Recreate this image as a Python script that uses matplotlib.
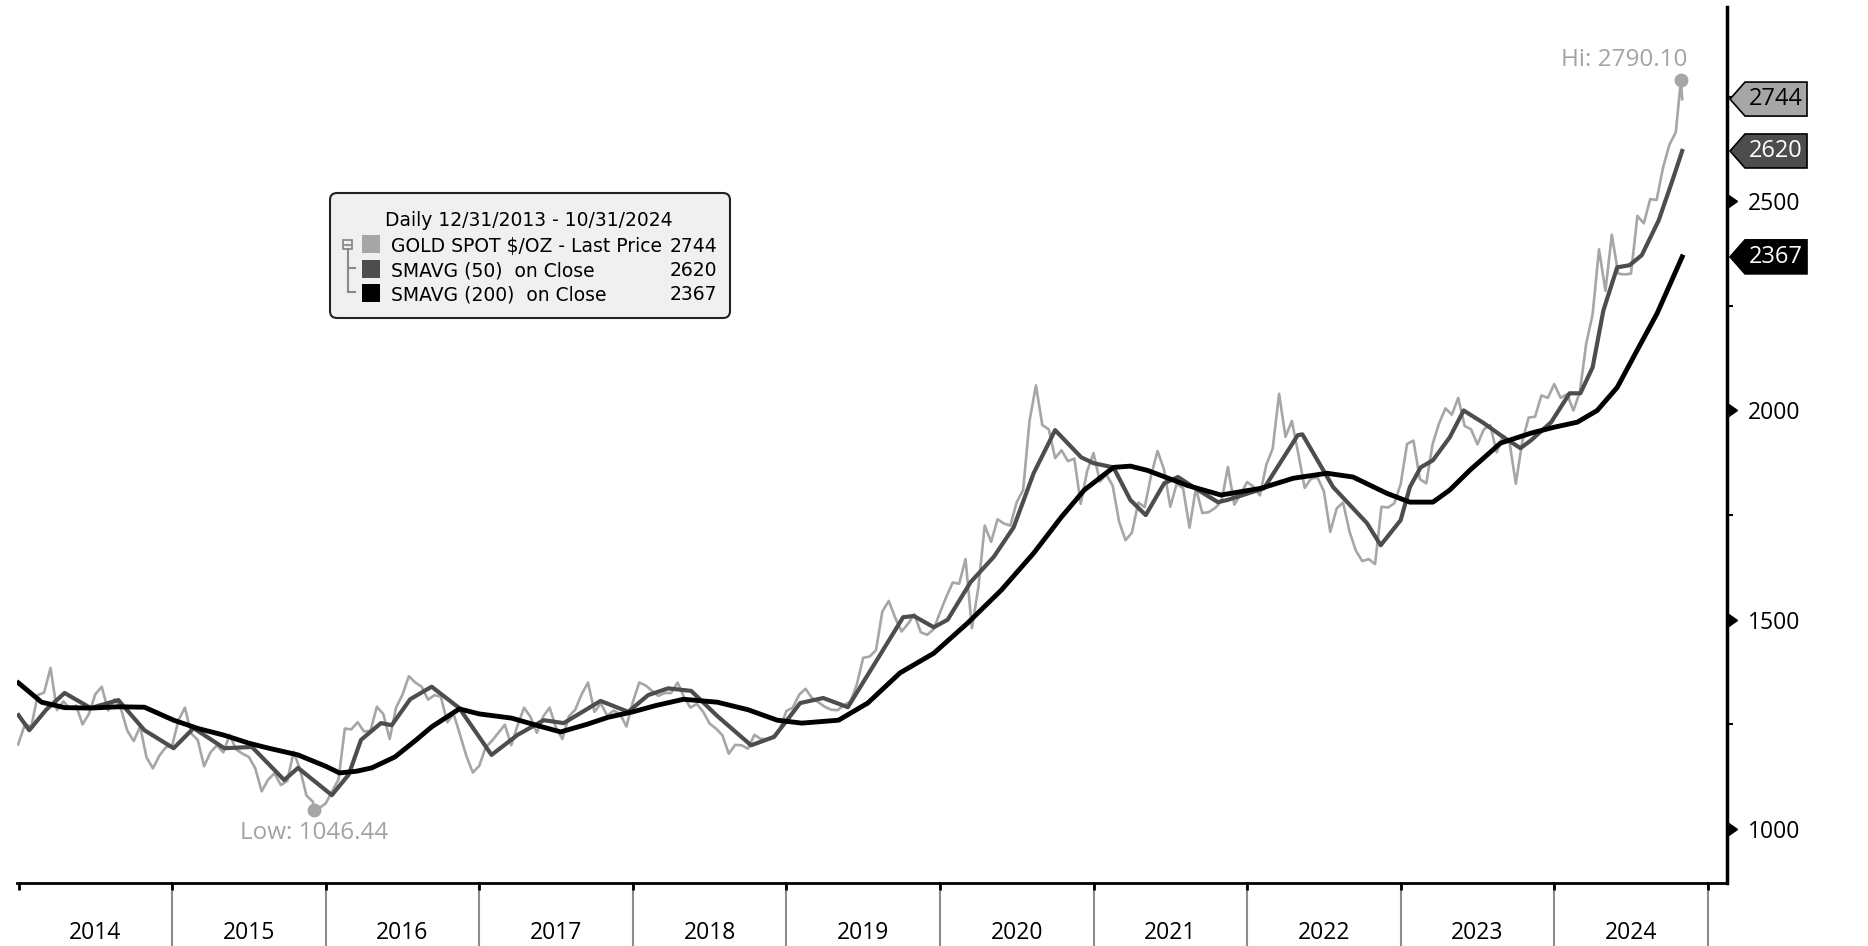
import matplotlib
matplotlib.use("Agg")
import matplotlib.pyplot as plt
from matplotlib.patches import Polygon, FancyBboxPatch, Rectangle
from matplotlib.lines import Line2D
from matplotlib.transforms import blended_transform_factory, IdentityTransform

W, H = 1868, 946

# gold spot, two readings per month (mid-month, month-end)
gold_2014 = [1250, 1245, 1320, 1326, 1385, 1284, 1305, 1288, 1295, 1250, 1275, 1322,
             1340, 1283, 1310, 1287, 1235, 1210, 1245, 1171, 1145, 1175, 1195, 1199]
gold_2015 = [1260, 1290, 1228, 1213, 1150, 1183, 1200, 1183, 1225, 1190, 1180, 1172,
             1145, 1090, 1118, 1133, 1105, 1115, 1185, 1142, 1080, 1065, 1050, 1061]
gold_2016 = [1090, 1118, 1240, 1238, 1255, 1233, 1235, 1292, 1275, 1215, 1290, 1321,
             1365, 1350, 1340, 1309, 1320, 1316, 1255, 1275, 1225, 1174, 1135, 1151]
gold_2017 = [1195, 1211, 1230, 1249, 1200, 1248, 1290, 1268, 1230, 1269, 1290, 1242,
             1215, 1269, 1285, 1322, 1350, 1280, 1300, 1271, 1283, 1275, 1245, 1303]
gold_2018 = [1350, 1343, 1330, 1318, 1325, 1325, 1350, 1315, 1290, 1299, 1280, 1252,
             1240, 1224, 1180, 1201, 1200, 1192, 1225, 1215, 1215, 1222, 1240, 1282]
gold_2019 = [1290, 1321, 1335, 1313, 1303, 1292, 1285, 1284, 1296, 1305, 1345, 1409,
             1412, 1427, 1520, 1545, 1505, 1472, 1490, 1513, 1470, 1464, 1477, 1517]
gold_2020 = [1555, 1589, 1586, 1645, 1480, 1577, 1725, 1686, 1740, 1730, 1725, 1781,
             1810, 1975, 2060, 1965, 1955, 1886, 1905, 1879, 1885, 1777, 1855, 1898]
gold_2021 = [1830, 1847, 1820, 1734, 1690, 1708, 1780, 1769, 1845, 1903, 1860, 1770,
             1825, 1814, 1720, 1814, 1755, 1757, 1767, 1783, 1865, 1775, 1800, 1829]
gold_2022 = [1818, 1797, 1870, 1909, 2040, 1937, 1975, 1897, 1815, 1837, 1840, 1807,
             1710, 1766, 1780, 1711, 1665, 1640, 1645, 1633, 1770, 1768, 1778, 1824]
gold_2023 = [1920, 1928, 1836, 1826, 1920, 1969, 2005, 1990, 2030, 1963, 1955, 1919,
             1955, 1965, 1900, 1940, 1925, 1825, 1925, 1983, 1985, 2036, 2030, 2063]
gold_2024 = [2030, 2039, 2000, 2044, 2160, 2230, 2385, 2286, 2420, 2327, 2325, 2327,
             2465, 2447, 2505, 2503, 2580, 2635, 2665, 2744]
gold_by_year = [gold_2014, gold_2015, gold_2016, gold_2017, gold_2018, gold_2019,
                gold_2020, gold_2021, gold_2022, gold_2023, gold_2024]
years = list(range(2014, 2025))
start_value = 1202.0
low_t, low_v = 2015.925, 1046.44
hi_t, hi_v = 2024.825, 2790.10

sma50_t = [2014.00, 2014.07, 2014.18, 2014.30, 2014.47, 2014.65, 2014.82, 2015.01, 2015.14,
           2015.34, 2015.52, 2015.73, 2015.82, 2016.04, 2016.15, 2016.23, 2016.36, 2016.43,
           2016.55, 2016.69, 2016.87, 2017.08, 2017.25, 2017.42, 2017.55, 2017.79, 2017.97,
           2018.10, 2018.23, 2018.38, 2018.55, 2018.77, 2018.92, 2019.09, 2019.24, 2019.40,
           2019.59, 2019.76, 2019.83, 2019.96, 2020.05, 2020.20, 2020.35, 2020.48, 2020.61,
           2020.75, 2020.92, 2021.00, 2021.13, 2021.24, 2021.34, 2021.46, 2021.55, 2021.68,
           2021.81, 2021.87, 2022.11, 2022.33, 2022.36, 2022.56, 2022.78, 2022.87, 2023.00,
           2023.06, 2023.13, 2023.21, 2023.32, 2023.41, 2023.54, 2023.67, 2023.78, 2023.85,
           2023.98, 2024.10, 2024.17, 2024.25, 2024.32, 2024.41, 2024.49, 2024.57, 2024.68,
           2024.77, 2024.833]
sma50_v = [1272, 1236, 1285, 1325, 1289, 1308, 1236, 1193, 1241,
           1193, 1196, 1117, 1146, 1081, 1130, 1213, 1253, 1248,
           1310, 1340, 1289, 1177, 1225, 1260, 1253, 1306, 1280,
           1320, 1336, 1330, 1270, 1200, 1220, 1301, 1313, 1291,
           1404, 1506, 1509, 1482, 1500, 1590, 1650, 1721, 1850,
           1953, 1888, 1874, 1864, 1786, 1750, 1826, 1841, 1810,
           1781, 1786, 1814, 1941, 1943, 1817, 1731, 1678, 1738,
           1817, 1864, 1881, 1936, 2000, 1970, 1936, 1910, 1929,
           1972, 2041, 2041, 2103, 2239, 2342, 2347, 2371, 2454,
           2550, 2620]

sma200_t = [2014.00, 2014.15, 2014.30, 2014.47, 2014.65, 2014.82, 2015.01, 2015.17, 2015.34,
            2015.50, 2015.63, 2015.82, 2016.00, 2016.09, 2016.20, 2016.30, 2016.45, 2016.58,
            2016.69, 2016.87, 2017.00, 2017.21, 2017.40, 2017.53, 2017.70, 2017.84, 2018.00,
            2018.15, 2018.33, 2018.55, 2018.75, 2018.94, 2019.10, 2019.34, 2019.53, 2019.74,
            2019.96, 2020.18, 2020.40, 2020.61, 2020.79, 2020.94, 2021.13, 2021.24, 2021.35,
            2021.61, 2021.83, 2022.09, 2022.30, 2022.52, 2022.69, 2022.91, 2023.06, 2023.21,
            2023.32, 2023.45, 2023.65, 2023.85, 2024.00, 2024.15, 2024.28, 2024.41, 2024.54,
            2024.67, 2024.833]
sma200_v = [1349, 1303, 1290, 1289, 1292, 1291, 1260, 1240, 1224,
            1205, 1193, 1177, 1150, 1134, 1138, 1146, 1172, 1210,
            1244, 1287, 1275, 1265, 1245, 1232, 1250, 1267, 1280,
            1295, 1310, 1303, 1285, 1260, 1253, 1260, 1301, 1373,
            1420, 1492, 1571, 1659, 1745, 1810, 1864, 1867, 1857,
            1821, 1798, 1814, 1838, 1850, 1841, 1802, 1781, 1781,
            1810, 1857, 1922, 1946, 1960, 1972, 2000, 2055, 2144,
            2232, 2367]

legend_rows = ["GOLD SPOT $/OZ - Last Price", "SMAVG (50)  on Close", "SMAVG (200)  on Close"]
last_values = [2744, 2620, 2367]
series_colors = ["#a6a6a6", "#4d4d4d", "#000000"]
tag_text_colors = ["#000000", "#ffffff", "#ffffff"]
y_major = [1000, 1500, 2000, 2500]
y_minor = [1250, 1750, 2250, 2750]

# assemble price series on its date grid
price_t = [2014.0 - 1 / 365]
price_v = [start_value]
for yr, vals in zip(years, gold_by_year):
    for i, val in enumerate(vals):
        price_t.append(yr + (i // 2 + (0.5 if i % 2 == 0 else 1.0)) / 12)
        price_v.append(val)
pts = sorted(zip(price_t + [low_t, hi_t], price_v + [low_v, hi_v]))
price_t = [p[0] for p in pts]
price_v = [p[1] for p in pts]

plt.rcParams["font.family"] = ["Open Sans", "DejaVu Sans"]

fig = plt.figure(figsize=(W / 100, H / 100), dpi=100)
ax = fig.add_axes([17 / W, 1 - 883 / H, (1727 - 17) / W, (883 - 7) / H])

ax.plot(price_t, price_v, color=series_colors[0], lw=1.9, zorder=2)
ax.plot(sma50_t, sma50_v, color=series_colors[1], lw=3.0, zorder=3)
ax.plot(sma200_t, sma200_v, color=series_colors[2], lw=3.5, zorder=4)

ax.set_xlim(2013.99, 2025.125)
ax.set_ylim(871, 2964)

for s in ["top", "left"]:
    ax.spines[s].set_visible(False)
ax.spines["bottom"].set_linewidth(2)
ax.spines["right"].set_linewidth(2.5)

# right-hand value axis
ax.yaxis.tick_right()
ax.set_yticks(y_major)
ax.set_yticks(y_minor, minor=True)
ax.tick_params(axis="y", which="major", length=0, pad=15, labelsize=16.5)
ax.tick_params(axis="y", which="minor", length=4.5, width=1.5, direction="out")
ax.yaxis.set_minor_formatter(plt.NullFormatter())
ybl = blended_transform_factory(ax.transAxes, ax.transData)
ax.plot([1] * len(y_major), y_major, ls="none", marker=9, ms=10, color="black",
        transform=ybl, clip_on=False, zorder=6)

# year axis
ax.set_xticks([y + 0.5 for y in years])
ax.set_xticklabels([str(y) for y in years])
ax.set_xticks(list(range(2014, 2026)), minor=True)
ax.tick_params(axis="x", which="major", length=0, pad=27, labelsize=16.5)
ax.tick_params(axis="x", which="minor", length=5, width=2, direction="out", color="black")
xbl = blended_transform_factory(ax.transData, ax.transAxes)
for yr in range(2015, 2026):
    ax.plot([yr, yr], [0, -0.08], color="#8c8c8c", lw=1.5, transform=xbl,
            clip_on=False, zorder=0)

# hi / low markers
grey_txt = "#a3a3a3"
ax.plot([hi_t], [hi_v], "o", ms=9, color=series_colors[0], zorder=5)
ax.plot([low_t], [low_v], "o", ms=9, color=series_colors[0], zorder=5)
ax.annotate(f"Hi: {hi_v:.2f}", (hi_t, hi_v), xytext=(5, 14), textcoords="offset points",
            ha="right", va="center", fontsize=17.5, color=grey_txt)
ax.annotate(f"Low: {low_v:.2f}", (low_t, low_v), xytext=(0, -17), textcoords="offset points",
            ha="center", va="center", fontsize=17.5, color=grey_txt)

# last-value tags on the right spine
ident = IdentityTransform()
sx = ax.transAxes.transform((1, 0))[0]
for val, face, tc in zip(last_values, series_colors, tag_text_colors):
    yc = ax.transData.transform((2020, val))[1]
    poly = Polygon([(sx + 3, yc), (sx + 18, yc + 17), (sx + 80, yc + 17),
                    (sx + 80, yc - 17), (sx + 18, yc - 17)], closed=True,
                   facecolor=face, edgecolor="black", lw=1.2, transform=ident, zorder=10)
    fig.add_artist(poly)
    fig.text((sx + 49) / W, yc / H, str(val), ha="center", va="center",
             fontsize=17, color=tc, zorder=11)

# legend panel
def fy(y):
    return 1 - y / H

box = FancyBboxPatch((330, H - 318), 400, 125, boxstyle="round,pad=0,rounding_size=7",
                     facecolor="#f0f0f0", edgecolor="#222222", lw=1.5, transform=ident, zorder=8)
fig.add_artist(box)
leg_font = dict(family=["DejaVu Sans"], fontsize=13.5, va="center", zorder=9)
fig.text(385 / W, fy(221), "Daily 12/31/2013 - 10/31/2024", ha="left", **leg_font)
row_y = [246, 271, 295]
for ry, label, val, col in zip(row_y, legend_rows, last_values, series_colors):
    fig.add_artist(Rectangle((362, H - ry - 9 + 2), 18, 18, facecolor=col, edgecolor="none",
                             transform=ident, zorder=9))
    fig.text(391 / W, fy(ry), label, ha="left", **leg_font)
    fig.text(717 / W, fy(ry), str(val), ha="right", **leg_font)

tree = "#8a8a8a"
fig.add_artist(Rectangle((343, H - 249), 9, 9, facecolor="none", edgecolor=tree, lw=1.3,
                         transform=ident, zorder=9))
fig.add_artist(Line2D([345, 350], [H - 244.5, H - 244.5], color=tree, lw=1.3,
                      transform=ident, zorder=9))
fig.add_artist(Line2D([347.5, 347.5], [H - 249, H - 292], color=tree, lw=1.5,
                      transform=ident, zorder=9))
for ry in [268, 292]:
    fig.add_artist(Line2D([347.5, 355], [H - ry, H - ry], color=tree, lw=1.5,
                          transform=ident, zorder=9))

fig.savefig("out.png", dpi=100)
